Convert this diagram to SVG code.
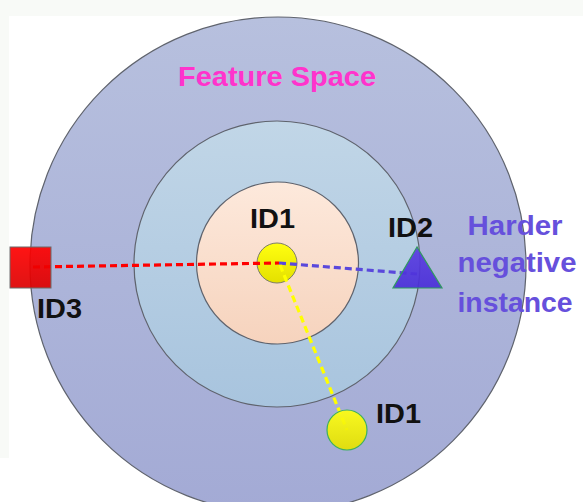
<svg xmlns="http://www.w3.org/2000/svg" width="583" height="502" viewBox="0 0 583 502">
  <defs>
    <linearGradient id="gOuter" x1="0" y1="0" x2="0" y2="1">
      <stop offset="0" stop-color="#b7c0de"/>
      <stop offset="1" stop-color="#a3aad5"/>
    </linearGradient>
    <linearGradient id="gMid" x1="0" y1="0" x2="0" y2="1">
      <stop offset="0" stop-color="#c1d6e7"/>
      <stop offset="1" stop-color="#a8c4de"/>
    </linearGradient>
    <linearGradient id="gInner" x1="0" y1="0" x2="0" y2="1">
      <stop offset="0" stop-color="#fde9dc"/>
      <stop offset="1" stop-color="#f6d3bd"/>
    </linearGradient>
    <linearGradient id="gYellow" x1="0" y1="0" x2="0" y2="1">
      <stop offset="0" stop-color="#ffff10"/>
      <stop offset="1" stop-color="#e4e000"/>
    </linearGradient>
    <linearGradient id="gRed" x1="0" y1="0" x2="0" y2="1">
      <stop offset="0" stop-color="#ff0000"/>
      <stop offset="1" stop-color="#dc0000"/>
    </linearGradient>
    <linearGradient id="gTri" x1="0" y1="0" x2="0" y2="1">
      <stop offset="0" stop-color="#5a3ee0"/>
      <stop offset="1" stop-color="#4a2ed8"/>
    </linearGradient>
  </defs>
  <style>
    .ring { stroke: #5f636d; stroke-width: 1.2; }
    .lbl { font-family: "Liberation Sans", Arial, sans-serif; font-weight: bold; font-size: 28px; fill: #111111; }
    .title { font-family: "Liberation Sans", Arial, sans-serif; font-weight: bold; font-size: 28px; fill: #ff33cc; }
    .note { font-family: "Liberation Sans", Arial, sans-serif; font-weight: bold; font-size: 28px; fill: #6650dc; text-anchor: middle; }
    .dash { fill: none; stroke-width: 3.2; stroke-dasharray: 7 4; }
  </style>

  <!-- page background with a faint frame strip -->
  <rect x="0" y="0" width="583" height="502" fill="#ffffff"/>
  <rect x="0" y="0" width="583" height="16" fill="#f8faf7"/>
  <rect x="0" y="0" width="9" height="458" fill="#f8faf7"/>

  <!-- concentric regions -->
  <g id="feature-space">
    <circle class="ring" cx="278" cy="265" r="248" fill="url(#gOuter)"/>
    <text class="title" x="178" y="86" textLength="198" lengthAdjust="spacingAndGlyphs">Feature Space</text>
  </g>
  <g id="middle-region">
    <circle class="ring" cx="277" cy="264" r="143" fill="url(#gMid)"/>
  </g>
  <g id="inner-region">
    <circle class="ring" cx="277.5" cy="263" r="81" fill="url(#gInner)"/>
  </g>

  <!-- anchor instance (drawn beneath the distance lines) -->
  <g id="anchor-id1">
    <circle cx="277" cy="263" r="20" fill="url(#gYellow)" stroke="#7d7d6a" stroke-width="1"/>
    <text class="lbl" x="250" y="228" textLength="45" lengthAdjust="spacingAndGlyphs">ID1</text>
  </g>

  <!-- connectors -->
  <g id="connectors">
    <line class="dash" x1="33" y1="267" x2="279" y2="263" stroke="#ff0000"/>
    <line class="dash" x1="279" y1="263" x2="417" y2="274" stroke="#5a48dc"/>
    <line class="dash" x1="280" y1="265" x2="347" y2="430" stroke="#ffff00"/>
  </g>

  <!-- positive instance -->
  <g id="positive-id1">
    <circle cx="347" cy="430" r="20" fill="url(#gYellow)" stroke="#3cb060" stroke-width="1.2" fill-opacity="0.92"/>
    <text class="lbl" x="376" y="423" textLength="45" lengthAdjust="spacingAndGlyphs">ID1</text>
  </g>

  <!-- hard negative instance -->
  <g id="negative-id2">
    <polygon points="417,247 393,288 442,288" fill="url(#gTri)" stroke="#2f9a60" stroke-width="1.2" fill-opacity="0.92"/>
    <text class="lbl" x="388" y="237" textLength="45" lengthAdjust="spacingAndGlyphs">ID2</text>
  </g>

  <!-- easy negative instance -->
  <g id="negative-id3">
    <rect x="10" y="247" width="41" height="41" fill="url(#gRed)" stroke="#6b6b6b" stroke-width="1" fill-opacity="0.92"/>
    <text class="lbl" x="37" y="318" textLength="45" lengthAdjust="spacingAndGlyphs">ID3</text>
  </g>

  <!-- annotation -->
  <g id="annotation">
    <text class="note" x="515" y="235" textLength="95" lengthAdjust="spacingAndGlyphs">Harder</text>
    <text class="note" x="517" y="272" textLength="119" lengthAdjust="spacingAndGlyphs">negative</text>
    <text class="note" x="515" y="312" textLength="115" lengthAdjust="spacingAndGlyphs">instance</text>
  </g>
</svg>
